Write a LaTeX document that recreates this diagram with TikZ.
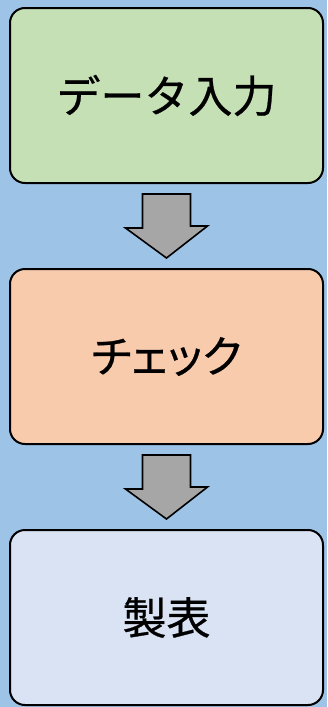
\documentclass[tikz,border=0pt]{standalone}
\usepackage{fontspec}
\setmainfont[FakeBold=0.6]{Noto Sans CJK JP}
\newfontfamily\palttext[FakeBold=0.6,RawFeature=+palt]{Noto Sans CJK JP}
\usetikzlibrary{calc}
\definecolor{bgblue}{HTML}{9DC3E6}
\definecolor{boxgreen}{HTML}{C5E0B4}
\definecolor{boxorange}{HTML}{F8CBAD}
\definecolor{boxblue}{HTML}{DAE3F3}
\definecolor{arrowgray}{HTML}{A6A6A6}
\begin{document}
\begin{tikzpicture}[x=1pt,y=-1pt,
  stepbox/.style={draw=black,line width=2pt,rounded corners=15pt,minimum width=313pt,minimum height=175pt,inner sep=0pt,font=\fontsize{44}{50}\selectfont},
  blockarrow/.style={draw=black,fill=arrowgray,line width=1.6pt,line join=miter}]
\fill[bgblue] (0,0) rectangle (327,707);
\useasboundingbox (0,0) rectangle (327,707);
\node[stepbox,fill=boxgreen] (a) at (166.5,95.5) {\raisebox{2pt}{データ入力}};
\node[stepbox,fill=boxorange] (b) at (166.5,356.5) {{\palttext チェック}};
\node[stepbox,fill=boxblue] (c) at (166.5,617.5) {\raisebox{2pt}{製表}};
\path (a.south) ++(0,10) coordinate (t1);
\path (b.north) ++(0,-10) coordinate (p1);
\path (b.south) ++(0,10) coordinate (t2);
\path (c.north) ++(0,-10) coordinate (p2);
\draw[blockarrow] (p1) -- ++(41,-32) -- ++(-17,0) -- ($(t1)+(24,0)$) -- ($(t1)+(-24,0)$) -- ++(0,34) -- ++(-17,0) -- cycle;
\draw[blockarrow] (p2) -- ++(41,-32) -- ++(-17,0) -- ($(t2)+(24,0)$) -- ($(t2)+(-24,0)$) -- ++(0,34) -- ++(-17,0) -- cycle;
\end{tikzpicture}
\end{document}
